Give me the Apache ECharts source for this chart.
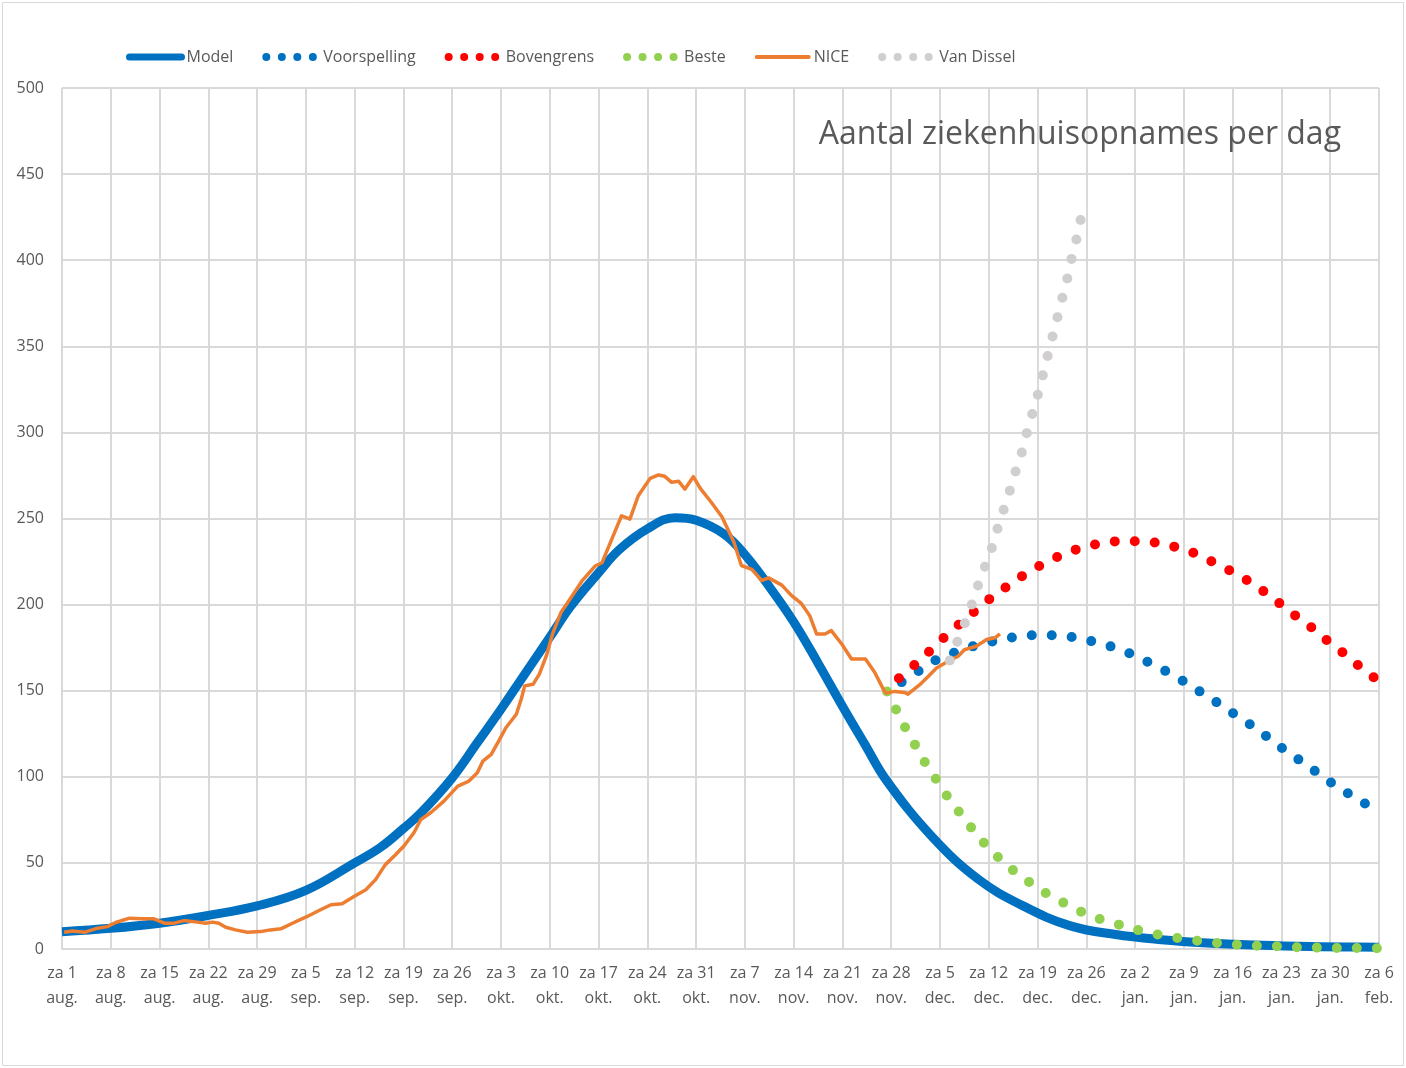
<!DOCTYPE html>
<html>
<head>
<meta charset="utf-8">
<title>Aantal ziekenhuisopnames per dag</title>
<script src="https://cdn.jsdelivr.net/npm/echarts@6/dist/echarts.min.js"></script>
<style>
  html, body { margin: 0; padding: 0; background: #fff; }
  #chart { width: 1406px; height: 1068px; }
</style>
</head>
<body>
<div id="chart"></div>
<script>
// week labels on the x axis (one every 7 days, day 0 = za 1 aug.)
const weekLabels = [
  'za 1\naug.', 'za 8\naug.', 'za 15\naug.', 'za 22\naug.', 'za 29\naug.',
  'za 5\nsep.', 'za 12\nsep.', 'za 19\nsep.', 'za 26\nsep.',
  'za 3\nokt.', 'za 10\nokt.', 'za 17\nokt.', 'za 24\nokt.', 'za 31\nokt.',
  'za 7\nnov.', 'za 14\nnov.', 'za 21\nnov.', 'za 28\nnov.',
  'za 5\ndec.', 'za 12\ndec.', 'za 19\ndec.', 'za 26\ndec.',
  'za 2\njan.', 'za 9\njan.', 'za 16\njan.', 'za 23\njan.', 'za 30\njan.',
  'za 6\nfeb.'
]

// [dag, opnames]
const modelData = [
  [0, 10], [7, 12], [14, 15], [21, 19.5], [28, 25], [35, 34], [42, 50],
  [45.7, 59], [49, 70], [51.5, 79], [56, 99.4], [59.6, 119.8], [63, 139.2],
  [66.4, 159.6], [70, 181], [73, 199], [77, 218.5], [80, 232], [84, 244],
  [88, 250.5], [91, 249], [95, 241], [98, 229], [101.4, 211], [105, 190],
  [108.5, 166], [112, 141], [115.2, 119], [118.3, 98], [124.8, 65.5], [131.5, 40.5],
  [138, 24.9], [144.6, 13.6], [151.2, 8.4], [157.8, 5.4], [164.3, 3.5],
  [170.9, 2.3], [177.4, 1.6], [184, 1.2], [189, 1]
]

const niceData = [
  [0.3, 9.7], [1.5, 10.5], [3.2, 9.7], [5.1, 12.1], [6.5, 13], [7.7, 15.4],
  [9.7, 17.9], [11.3, 17.5], [13.2, 17.5], [14.7, 15], [16.1, 15], [17.5, 16.5],
  [19.4, 15.6], [20.6, 15], [21.6, 15.6], [22.5, 15], [23.5, 12.6], [24.9, 11.1],
  [26.6, 9.7], [28.5, 10.1], [29.9, 11.1], [31.4, 11.7], [33.3, 15.4], [35.2, 18.9],
  [37.1, 22.8], [38.6, 25.7], [40.2, 26.3], [41.9, 30.5], [43.6, 34.4], [45, 40.3],
  [46.4, 49], [47.9, 54.9], [49.1, 60], [50.5, 67.5], [51.5, 75.2], [52.9, 79.1],
  [54.8, 85.9], [56.8, 94.6], [58.4, 97.5], [59.6, 102.4], [60.4, 109.1], [61.6, 113],
  [62.8, 121.7], [63.7, 128.5], [65.2, 136.3], [65.9, 145], [66.4, 152.8], [67.6, 153.7],
  [68.5, 159.6], [69.5, 170.2], [70.4, 183], [71.6, 195.4], [72.6, 201.3], [74.6, 213.6],
  [76.5, 222.4], [77.5, 224.3], [78.9, 238], [80.3, 251.6], [81.5, 249.6], [82.7, 263.2],
  [84.4, 273.3], [85.6, 275.3], [86.5, 274.5], [87.5, 271], [88.5, 271.6], [89.4, 267.1],
  [90.6, 274.3], [91.6, 267.5], [93.2, 259.3], [94.7, 251], [96.4, 236.5], [97.5, 222.7],
  [99, 220.5], [100.4, 214], [101.4, 215.5], [103.3, 211.3], [104.7, 205.2], [106.1, 200.7],
  [107.3, 193.6], [108.3, 182.9], [109.5, 182.9], [110.4, 184.9], [111.9, 177.1], [113.3, 168.4],
  [115.3, 168.4], [116.6, 160.9], [117.9, 150.6], [118.3, 148.6], [119.5, 149.6], [120.9, 149],
  [121.4, 148], [123.1, 153.5], [124.3, 158.3], [125.5, 163.2], [127.1, 167], [128.6, 170],
  [129.5, 173.8], [131.2, 175.8], [132.7, 179.7], [133.9, 180.7], [134.6, 183]
]

const voorspellingData = [
  [120.5, 155], [123.2, 162.2], [125.7, 168.4], [128.5, 172.7], [131.1, 176.2],
  [133.9, 178.9], [136.7, 181.1], [139.5, 182.2], [142.4, 182.2], [145.3, 180.9],
  [148.1, 178.4], [150.9, 175.2], [153.6, 171], [156.2, 165.9], [158.7, 160.7],
  [161.2, 154.9], [163.6, 148.7], [166, 142.5], [168.4, 136], [170.8, 129.6],
  [173.1, 122.8], [175.4, 115.8], [177.8, 109.1], [180.1, 102.5], [182.4, 95.9],
  [184.9, 89.5], [187.3, 83.7]
]

const bovengrensData = [
  [120.1, 157.2], [122.6, 165.9], [124.7, 173.7], [126.8, 181.7], [129, 189.4],
  [131.1, 196.6], [133.4, 204.2], [135.7, 210.8], [138.1, 217.4], [140.6, 223.2],
  [143.2, 228.3], [145.9, 232.5], [148.6, 235.2], [151.6, 236.8], [154.4, 236.8],
  [157.3, 235.8], [160.1, 233.1], [162.8, 229.4], [165.3, 224.4], [167.9, 219.1],
  [170.4, 213.3], [172.8, 206.7], [175, 199.9], [177.3, 192.7], [179.6, 185.9],
  [181.8, 178.3], [184.1, 171.2], [186.3, 163.8], [188.6, 156.6]
]

const besteData = [
  [118.4, 149.5], [119.7, 139], [121, 128.6], [122.4, 118.7], [123.8, 108.6],
  [125.4, 98.8], [127, 88.9], [128.7, 79.8], [130.5, 70.4], [132.3, 61.7],
  [134.4, 53.1], [136.5, 45.7], [138.8, 38.9], [141.2, 32.5], [143.8, 26.7],
  [146.3, 21.6], [149, 17.3], [151.8, 14], [154.5, 10.9], [157.3, 8.4],
  [160.1, 6.4], [163, 4.7], [165.8, 3.5], [168.7, 2.5], [171.5, 1.9],
  [174.4, 1.6], [177.3, 1], [180.1, 0.8], [183, 0.6], [185.8, 0.6], [188.7, 0.4]
]

const vanDisselData = [
  [127.4, 167.6], [128.5, 178.6], [129.6, 189.5], [130.6, 200.5], [131.5, 211.6],
  [132.5, 222.6], [133.5, 233.7], [134.3, 244.8], [135.2, 256], [136.1, 267.2],
  [136.9, 278], [137.8, 289.2], [138.5, 300.4], [139.3, 311.6], [140.1, 322.8],
  [140.8, 333.9], [141.5, 345.3], [142.2, 356.5], [142.9, 367.6], [143.6, 378.8],
  [144.3, 390], [144.9, 401.2], [145.6, 412.5], [146.2, 423.9]
]

const textColor = '#595959'
const gridColor = '#d9d9d9'
const fontFamily = '"Open Sans", sans-serif'

const dotted = (color) => ({
  color: color,
  width: 10,
  type: [0, 20],
  cap: 'round'
})

const legendDots = (color) => ({
  lineStyle: { color: color, width: 8, type: [0, 15.5], cap: 'round' },
  itemStyle: { opacity: 0 }
})

const chart = echarts.init(document.getElementById('chart'))

const option = {
  animation: false,
  backgroundColor: '#fff',
  textStyle: { fontFamily: fontFamily },
  graphic: [
    {
      type: 'rect',
      shape: { x: 2.5, y: 2.5, width: 1401, height: 1063 },
      style: { fill: 'none', stroke: gridColor, lineWidth: 1 },
      silent: true
    }
  ],
  title: {
    text: 'Aantal ziekenhuisopnames per dag',
    right: 60,
    top: 114,
    textStyle: { fontSize: 32, fontWeight: 'normal', color: textColor, fontFamily: fontFamily }
  },
  legend: {
    left: 121,
    top: 44,
    itemWidth: 52,
    itemHeight: 14,
    itemGap: 29,
    textStyle: { fontSize: 16, color: textColor, fontFamily: fontFamily },
    data: [
      { name: 'Model', lineStyle: { color: '#0070C0', width: 7, cap: 'round' }, itemStyle: { opacity: 0 } },
      { name: 'Voorspelling', ...legendDots('#0070C0') },
      { name: 'Bovengrens', ...legendDots('#FF0000') },
      { name: 'Beste', ...legendDots('#92D050') },
      { name: 'NICE', lineStyle: { color: '#ED7D31', width: 4, cap: 'round' }, itemStyle: { opacity: 0 } },
      { name: 'Van Dissel', ...legendDots('#D0CECE') }
    ]
  },
  grid: {
    left: 62,
    right: 27,
    top: 88,
    bottom: 119
  },
  xAxis: {
    type: 'value',
    min: 0,
    max: 189,
    interval: 7,
    axisLine: { show: true, lineStyle: { color: gridColor, width: 2 } },
    axisTick: { show: false },
    axisLabel: {
      color: textColor,
      fontSize: 16,
      lineHeight: 25,
      margin: 12,
      formatter: (v) => weekLabels[Math.round(v / 7)] || ''
    },
    splitLine: { show: true, lineStyle: { color: gridColor, width: 2 } }
  },
  yAxis: {
    type: 'value',
    min: 0,
    max: 500,
    interval: 50,
    axisLine: { show: false },
    axisTick: { show: false },
    axisLabel: { color: textColor, fontSize: 16, margin: 18 },
    splitLine: { show: true, lineStyle: { color: gridColor, width: 2 } }
  },
  series: [
    {
      name: 'Model',
      type: 'line',
      data: modelData,
      smooth: 0.4,
      symbol: 'none',
      lineStyle: { color: '#0070C0', width: 9, join: 'round' },
      itemStyle: { color: '#0070C0' }
    },
    {
      name: 'Voorspelling',
      type: 'line',
      data: voorspellingData,
      smooth: 0.3,
      symbol: 'none',
      lineStyle: dotted('#0070C0'),
      itemStyle: { color: '#0070C0' }
    },
    {
      name: 'Bovengrens',
      type: 'line',
      data: bovengrensData,
      smooth: 0.3,
      symbol: 'none',
      lineStyle: dotted('#FF0000'),
      itemStyle: { color: '#FF0000' }
    },
    {
      name: 'Beste',
      type: 'line',
      data: besteData,
      smooth: 0.3,
      symbol: 'none',
      lineStyle: dotted('#92D050'),
      itemStyle: { color: '#92D050' }
    },
    {
      name: 'NICE',
      type: 'line',
      data: niceData,
      symbol: 'none',
      lineStyle: { color: '#ED7D31', width: 3.5, join: 'round' },
      itemStyle: { color: '#ED7D31' }
    },
    {
      name: 'Van Dissel',
      type: 'line',
      data: vanDisselData,
      smooth: 0.3,
      symbol: 'none',
      lineStyle: dotted('#D0CECE'),
      itemStyle: { color: '#D0CECE' }
    }
  ]
}

chart.setOption(option)
</script>
</body>
</html>
